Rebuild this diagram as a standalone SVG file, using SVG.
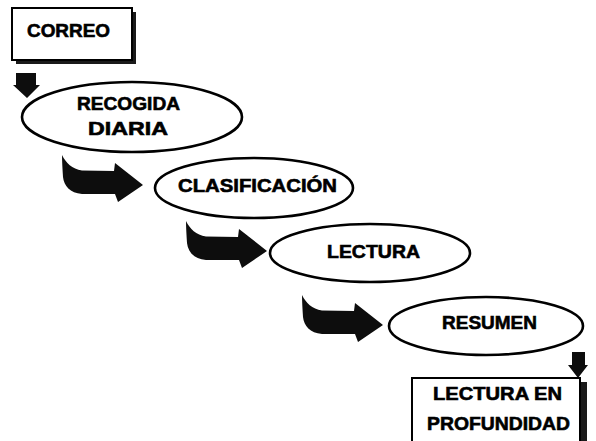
<svg xmlns="http://www.w3.org/2000/svg" xmlns:xlink="http://www.w3.org/1999/xlink" width="596" height="441" viewBox="0 0 596 441">
<style>
.box{fill:#fff;stroke:#000;stroke-width:2}
.shadow{fill:#1a1a1a}
.ell{fill:#fff;stroke:#000;stroke-width:2.6}
.lbl{font-family:"Liberation Sans",Arial,sans-serif;font-weight:bold;font-size:18.5px;fill:#000;stroke:#000;stroke-width:0.6}
.arr{fill:#0d0d0d}
</style>
<defs>
<path id="curvedArrow" d="M0,0 C4,8 10,14 20,15.5 L52,16 L53,8 L81,30 L56,47 L53,39 L20,39 C8,38 2,31 1,22 C0.5,14 0,6 0,0 Z"/>
</defs>
<rect width="596" height="441" fill="#fff"/>
<g id="connectors">
<path class="arr" d="M16,73 L36,73 L36,85 L40,85 L27,98 L13,85 L16,85 Z"/>
<use class="arr" xlink:href="#curvedArrow" transform="translate(62,155)"/>
<use class="arr" xlink:href="#curvedArrow" transform="translate(186,221)"/>
<use class="arr" xlink:href="#curvedArrow" transform="translate(302,295)"/>
<path class="arr" d="M572,352 L585,352 L585,365 L588,365 L578,378 L568,365 L572,365 Z"/>
</g>
<g id="correo">
<rect class="shadow" x="16" y="12" width="120" height="52"/>
<rect class="box" x="12" y="8" width="120" height="52"/>
<text class="lbl" x="27" y="37" textLength="83" lengthAdjust="spacingAndGlyphs">CORREO</text>
</g>
<g id="recogida">
<ellipse class="ell" cx="132" cy="117" rx="110" ry="35"/>
<text class="lbl" x="77" y="110" textLength="103" lengthAdjust="spacingAndGlyphs">RECOGIDA</text>
<text class="lbl" x="88" y="135" textLength="80" lengthAdjust="spacingAndGlyphs">DIARIA</text>
</g>
<g id="clasificacion">
<ellipse class="ell" cx="254" cy="188" rx="99" ry="30"/>
<text class="lbl" x="178" y="192" textLength="159" lengthAdjust="spacingAndGlyphs">CLASIFICACIÓN</text>
</g>
<g id="lectura">
<ellipse class="ell" cx="370" cy="253" rx="100" ry="29"/>
<text class="lbl" x="327" y="258" textLength="93" lengthAdjust="spacingAndGlyphs">LECTURA</text>
</g>
<g id="resumen">
<ellipse class="ell" cx="486" cy="326" rx="97" ry="29"/>
<text class="lbl" x="442" y="329" textLength="95" lengthAdjust="spacingAndGlyphs">RESUMEN</text>
</g>
<g id="profundidad">
<rect class="shadow" x="416" y="382" width="171" height="66"/>
<rect class="box" x="412" y="378" width="168" height="66"/>
<text class="lbl" x="433" y="400" textLength="129" lengthAdjust="spacingAndGlyphs">LECTURA EN</text>
<text class="lbl" x="427" y="430" textLength="143" lengthAdjust="spacingAndGlyphs">PROFUNDIDAD</text>
</g>
</svg>
